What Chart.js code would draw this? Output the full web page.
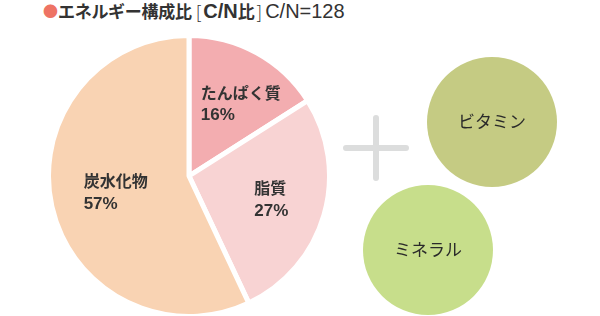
<!DOCTYPE html>
<html>
<head>
<meta charset="utf-8">
<script src="https://cdn.jsdelivr.net/npm/chart.js@4"></script>
<style>
  body { margin: 0; background: #fff; width: 600px; height: 316px; overflow: hidden; position: relative; }
  #title { position: absolute; left: 43px; top: 0px; height: 22px; line-height: 22px; font-family: "Liberation Sans", "Noto Sans CJK JP", sans-serif; font-size: 20px; color: #333; white-space: nowrap; }
  #title .dot { color: #ee7364; font-size: 15px; font-family: "Noto Sans CJK JP"; vertical-align: top; }
  #title .jp { font-family: "Noto Sans CJK JP"; font-size: 17px; font-weight: 700; letter-spacing: -0.3px; vertical-align: top; }
  #title b { font-weight: 700; }
  #title .br { font-weight: 300; font-family: "Noto Sans CJK JP"; font-size: 18px; vertical-align: top; margin: 0 2px 0 4px; }
  #title .br2 { margin: 0 3px 0 2px; }
  canvas { position: absolute; }
  #pieChart { left: 44px; top: 31px; }
</style>
</head>
<body>
<div id="title"><span class="dot">●</span><span class="jp">エネルギー構成比</span><span class="br">[</span><b>C/N<span class="jp">比</span></b><span class="br br2">]</span>C/N=128</div>
<canvas id="bubbleChart"></canvas>
<canvas id="pieChart" width="290" height="290"></canvas>
<script>
// energy composition
let pieLabels = ['たんぱく質', '脂質', '炭水化物'];
let pieValues = [16, 27, 57];
let pieColors = ['#f3adb0', '#f8d3d3', '#f9d3b3'];
let labelDist = [0.63, 0.61, 0.535];
let labelTurn = [7, 0, 0];

// other nutrients
let bubbleLabels = ['ビタミン', 'ミネラル'];
let bubbleX = [492, 428];
let bubbleY = [122, 250];
let bubbleR = [65, 65];
let bubbleColors = ['#c5cb83', '#c7de8b'];

const jpFont = '"Noto Sans CJK JP", sans-serif';
const mixFont = '"Liberation Sans", "Noto Sans CJK JP", sans-serif';

const pieText = {
    id: 'pieText',
    afterDatasetsDraw(chart) {
        let ctx = chart.ctx;
        let meta = chart.getDatasetMeta(0);
        ctx.save();
        ctx.fillStyle = '#333';
        ctx.textBaseline = 'middle';
        ctx.textAlign = 'left';
        meta.data.forEach((arc, i) => {
            let p = arc.getProps(['x', 'y', 'startAngle', 'endAngle', 'outerRadius']);
            let mid = (p.startAngle + p.endAngle) / 2 + labelTurn[i] * Math.PI / 180;
            let d = p.outerRadius * labelDist[i];
            let cx = p.x + Math.cos(mid) * d;
            let cy = p.y + Math.sin(mid) * d;
            let fonts = ['bold 16px ' + jpFont, 'bold 17px ' + mixFont];
            let lines = [pieLabels[i], pieValues[i] + '%'];
            let w = Math.max(...lines.map((t, j) => { ctx.font = fonts[j]; return ctx.measureText(t).width; }));
            lines.forEach((t, j) => {
                ctx.font = fonts[j];
                ctx.fillText(t, cx - w / 2, cy + (j - 0.5) * 23);
            });
        });
        ctx.restore();
    }
};

let ctx1 = document.getElementById('pieChart').getContext('2d');
let pieChart = new Chart(ctx1, {
    type: 'pie',
    data: {
        labels: pieLabels,
        datasets: [{
            data: pieValues,
            backgroundColor: pieColors,
            borderColor: '#fff',
            borderWidth: 5
        }]
    },
    options: {
        responsive: false,
        animation: false,
        layout: { padding: 2 },
        plugins: {
            legend: { display: false },
            tooltip: { enabled: false }
        }
    },
    plugins: [pieText]
});

const bubbleText = {
    id: 'bubbleText',
    beforeDatasetsDraw(chart) {
        // plus sign
        let ctx = chart.ctx;
        let x = chart.scales.x.getPixelForValue(376);
        let y = chart.scales.y.getPixelForValue(148);
        ctx.save();
        ctx.strokeStyle = '#dcdddd';
        ctx.lineWidth = 6;
        ctx.lineCap = 'round';
        ctx.beginPath();
        ctx.moveTo(x - 30, y); ctx.lineTo(x + 30, y);
        ctx.moveTo(x, y - 30); ctx.lineTo(x, y + 30);
        ctx.stroke();
        ctx.restore();
    },
    afterDatasetsDraw(chart) {
        let ctx = chart.ctx;
        let meta = chart.getDatasetMeta(0);
        ctx.save();
        ctx.font = '17px ' + jpFont;
        ctx.fillStyle = '#2a2a2a';
        ctx.textAlign = 'center';
        ctx.textBaseline = 'middle';
        meta.data.forEach((pt, i) => {
            ctx.fillText(bubbleLabels[i], pt.x, pt.y);
        });
        ctx.restore();
    }
};

// bubble charts keep a margin of the largest radius round the plot area,
// so the canvas is made that much bigger and shifted back
let overflow = Math.max(...bubbleR);
let bc = document.getElementById('bubbleChart');
bc.width = 600 + 2 * overflow;
bc.height = 316 + 2 * overflow;
bc.style.left = -overflow + 'px';
bc.style.top = -overflow + 'px';

let ctx2 = bc.getContext('2d');
let bubbleChart = new Chart(ctx2, {
    type: 'bubble',
    data: {
        labels: bubbleLabels,
        datasets: [{
            data: bubbleLabels.map((l, i) => ({ x: bubbleX[i], y: bubbleY[i], r: bubbleR[i] })),
            backgroundColor: bubbleColors,
            borderWidth: 0,
            clip: false
        }]
    },
    options: {
        responsive: false,
        animation: false,
        layout: { padding: 0 },
        scales: {
            x: { display: false, min: 0, max: 600 },
            y: { display: false, min: 0, max: 316, reverse: true }
        },
        plugins: {
            legend: { display: false },
            tooltip: { enabled: false }
        }
    },
    plugins: [bubbleText]
});
</script>
</body>
</html>
